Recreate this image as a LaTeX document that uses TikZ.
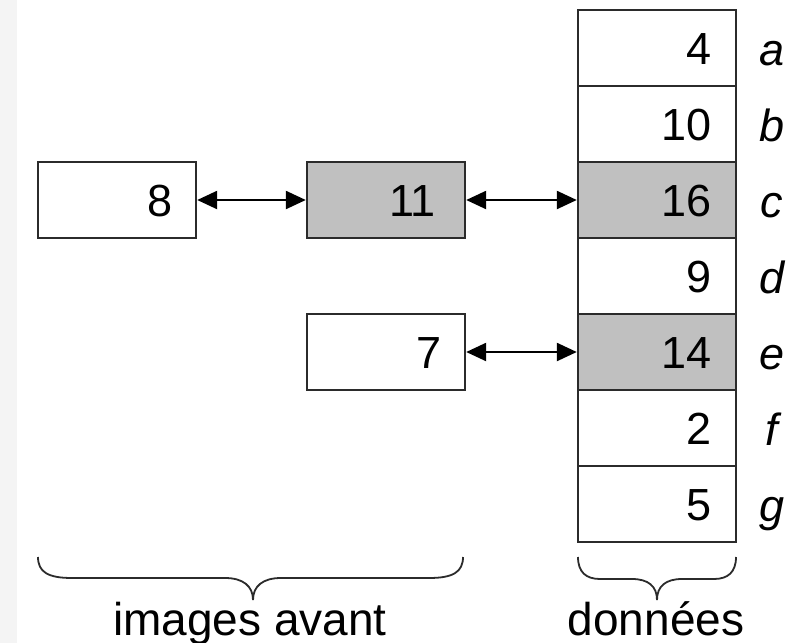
\documentclass[tikz,border=0pt]{standalone}
\usepackage{fontspec}
\setmainfont{Liberation Sans}
\usetikzlibrary{arrows.meta,calc}
\definecolor{cellgray}{HTML}{C0C0C0}
\definecolor{edgegray}{HTML}{2B2B2B}
\definecolor{stripgray}{HTML}{F4F4F4}
\tikzset{
  cell/.style={draw=edgegray, line width=2.4pt, rectangle, minimum width=158pt, minimum height=76pt, inner sep=0pt, fill=white},
  hot/.style={fill=cellgray},
  num/.style={anchor=base east, inner sep=0pt, font=\fontsize{45}{54}\selectfont},
  tag/.style={anchor=base, inner sep=0pt, font=\fontsize{45}{54}\selectfont\itshape},
  caption/.style={anchor=base, inner sep=0pt, font=\fontsize{46}{55}\selectfont},
  link/.style={line width=2.4pt, {Triangle[length=20pt,width=18pt]}-{Triangle[length=20pt,width=18pt]}},
  brace/.style={line width=1.8pt, draw=edgegray}
}
\begin{document}
\begin{tikzpicture}[x=1pt,y=-1pt]
\useasboundingbox (0,0) rectangle (796,643);
\fill[stripgray] (0,0) rectangle (17,643);

% data column
\foreach \n/\v/\h [count=\i from 0] in {a/4/white,b/10/white,c/16/cellgray,d/9/white,e/14/cellgray,f/2/white,g/5/white}{
  \node[cell, fill=\h] (\n) at (657,{48+76*\i}) {};
  \node[num] at ($(\n.east)+(-25,16)$) {\v};
  \node[tag] at ($(\n.center)+(115,17)$) {\n};
}

% forward images
\node[cell] (p8) at (117,200) {};
\node[num] at ($(p8.east)+(-24,16)$) {8};
\node[cell, hot] (p11) at (386,200) {};
\node[num] at ($(p11.east)+(-30,16)$) {11};
\node[cell] (p7) at (386,352) {};
\node[num] at ($(p7.east)+(-24,16)$) {7};

% links
\draw[link] (p8.east) -- (p11.west);
\draw[link] (p11.east) -- (c.west);
\draw[link] (p7.east) -- (e.west);

% braces
\coordinate (bl) at (38,557);
\coordinate (br) at (463,557);
\coordinate (btip) at (253,600);
\draw[brace] (bl) .. controls (38,572) and (48,578) .. (72,578) -- (225,578)
  .. controls (243,578) and (253,586) .. (btip)
  .. controls (253,586) and (263,578) .. (281,578) -- (429,578)
  .. controls (453,578) and (463,572) .. (br);
\node[caption] (cap1) at (250,635) {images avant};

\coordinate (dl) at (578,557);
\coordinate (dr) at (736,557);
\coordinate (dtip) at (657,600);
\draw[brace] (dl) .. controls (578,572) and (586,579) .. (600,579) -- (632,579)
  .. controls (648,579) and (657,586) .. (dtip)
  .. controls (657,586) and (666,579) .. (682,579) -- (714,579)
  .. controls (728,579) and (736,572) .. (dr);
\node[caption] (cap2) at (656,635) {données};
\end{tikzpicture}
\end{document}
